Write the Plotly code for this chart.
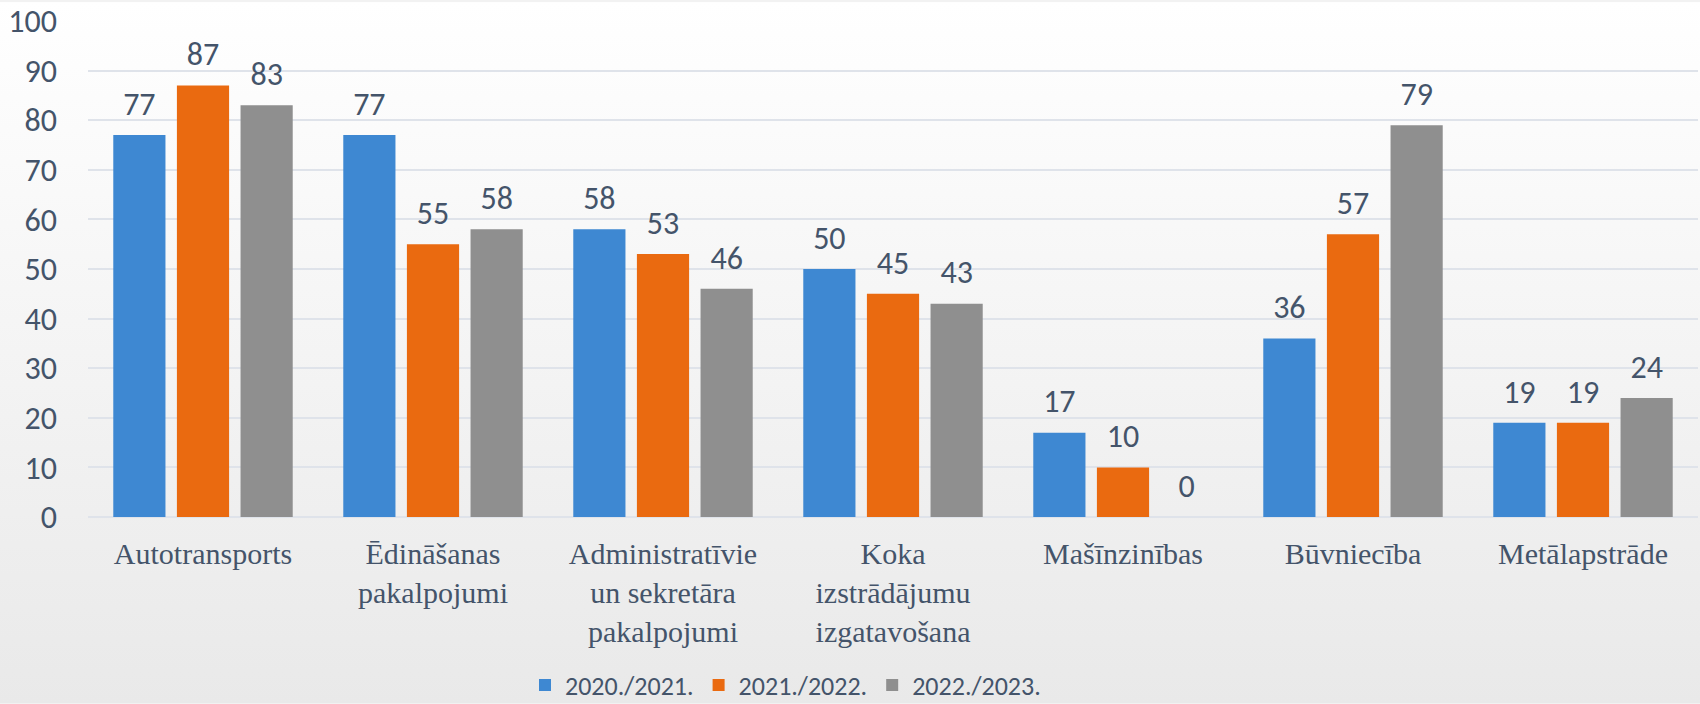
import base64
import plotly.graph_objects as go

categories = [
    "Autotransports",
    "Ēdināšanas<br>pakalpojumi",
    "Administratīvie<br>un sekretāra<br>pakalpojumi",
    "Koka<br>izstrādājumu<br>izgatavošana",
    "Mašīnzinības",
    "Būvniecība",
    "Metālapstrāde",
]
series_names = ["2020./2021.", "2021./2022.", "2022./2023."]
values_2020 = [77, 77, 58, 50, 17, 36, 19]
values_2021 = [87, 55, 53, 45, 10, 57, 19]
values_2022 = [83, 58, 46, 43, 0, 79, 24]
y_ticks = [0, 10, 20, 30, 40, 50, 60, 70, 80, 90, 100]

colors = ["#3e88d2", "#ea6a10", "#8f8f8f"]
text_color = "#44546a"
num_font = "Carlito, Lato, sans-serif"

W, H = 1700, 704
ML, MR, MT, MB = 88, 2, 19, 187
BARGAP = 0.17

fig = go.Figure()
for i, (name, vals, col) in enumerate(zip(series_names, [values_2020, values_2021, values_2022], colors)):
    fig.add_trace(go.Bar(
        name=name, x=categories, y=vals, offsetgroup=str(i),
        marker=dict(color=col, line=dict(width=0)),
        hoverinfo="skip",
    ))
for i, vals in enumerate([values_2020, values_2021, values_2022]):
    fig.add_trace(go.Scatter(
        x=categories, y=vals, offsetgroup=str(i), mode="markers+text",
        marker=dict(size=18, color="rgba(0,0,0,0)"),
        text=[str(v) for v in vals], textposition="top center",
        textfont=dict(family=num_font, size=32, color=text_color),
        showlegend=False, cliponaxis=False, hoverinfo="skip",
    ))

# background gradient via svg image
svg = ('<svg xmlns="http://www.w3.org/2000/svg" width="100" height="100" preserveAspectRatio="none">'
       '<defs><linearGradient id="g" x1="0" y1="0" x2="0" y2="1">'
       '<stop offset="0" stop-color="#ffffff"/><stop offset="1" stop-color="#e9e9e9"/>'
       '</linearGradient></defs><rect width="100" height="100" fill="url(#g)"/></svg>')
src = "data:image/svg+xml;base64," + base64.b64encode(svg.encode()).decode()
pw = W - ML - MR
ph = H - MT - MB
fig.add_layout_image(dict(
    source=src, xref="paper", yref="paper",
    x=-ML / pw, y=1 + MT / ph, sizex=W / pw, sizey=H / ph,
    xanchor="left", yanchor="top", sizing="stretch", layer="below",
))

fig.update_layout(
    width=W, height=H,
    margin=dict(l=ML, r=MR, t=MT, b=MB),
    paper_bgcolor="#f2f2f2", plot_bgcolor="rgba(0,0,0,0)",
    barmode="group", bargap=BARGAP, bargroupgap=0.18,
    scattermode="group", scattergap=BARGAP,
    showlegend=True,
    legend=dict(
        orientation="h", xref="container", yref="container",
        x=525 / W, xanchor="left", y=0.027, yanchor="middle",
        font=dict(family=num_font, size=26, color=text_color),
        itemwidth=30, bgcolor="rgba(0,0,0,0)",
    ),
    font=dict(family=num_font, color=text_color),
)
fig.update_yaxes(
    range=[0, 100], tickvals=y_ticks, showgrid=True, gridcolor="#dfe3ea", gridwidth=2,
    zeroline=True, zerolinecolor="#dfe3ea", zerolinewidth=2, showline=False,
    tickfont=dict(family=num_font, size=32, color=text_color),
    ticklabelstandoff=30,
)
fig.update_xaxes(
    showline=False, ticks="",
    tickfont=dict(family="Liberation Serif, Times New Roman, serif", size=30, color=text_color),
    ticklabelstandoff=16,
)
fig.write_html(
    "out.html",
    config={"displayModeBar": False},
    post_script="document.body.style.margin='0';document.body.style.overflow='hidden';",
)
